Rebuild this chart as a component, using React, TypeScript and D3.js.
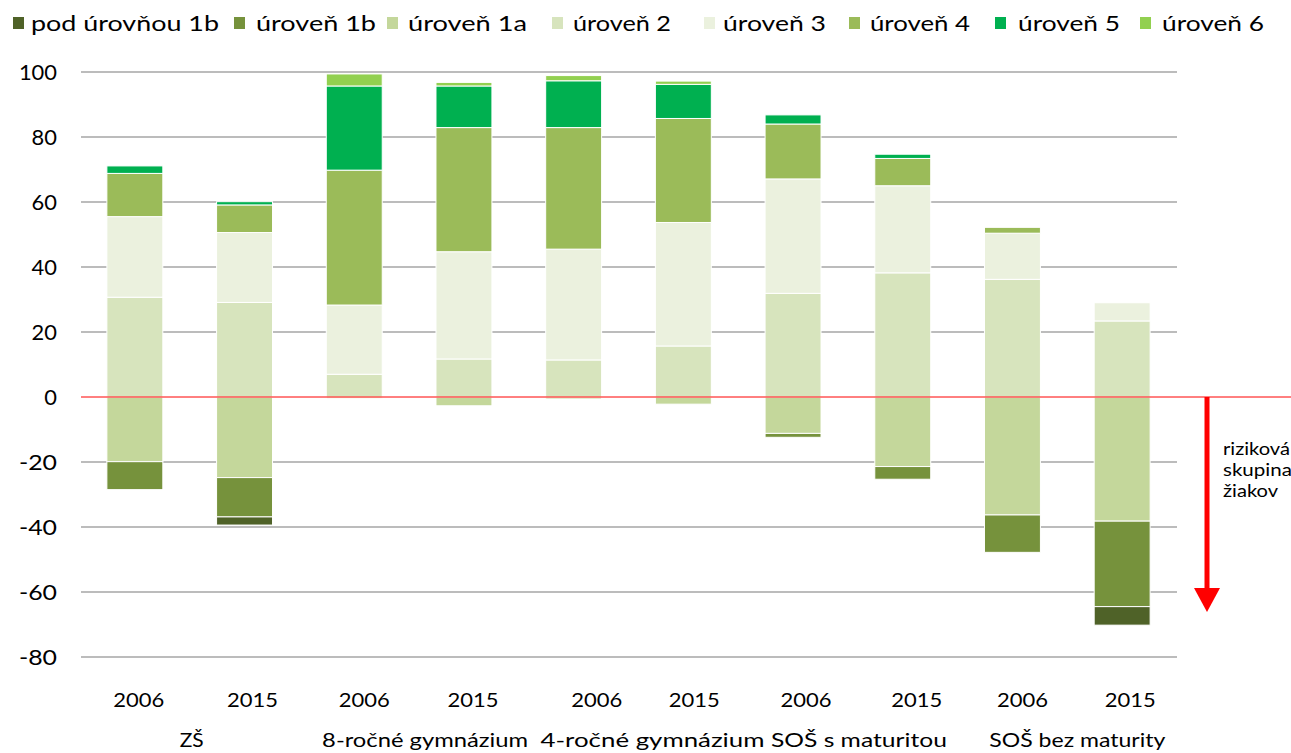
import React from 'react';
import * as d3 from 'd3';

const years = ['2006', '2015', '2006', '2015', '2006', '2015', '2006', '2015', '2006', '2015'];
const groups = ['ZŠ', '8-ročné gymnázium', '4-ročné gymnázium', 'SOŠ s maturitou', 'SOŠ bez maturity'];
const seriesNames = ['pod úrovňou 1b', 'úroveň 1b', 'úroveň 1a', 'úroveň 2', 'úroveň 3', 'úroveň 4', 'úroveň 5', 'úroveň 6'];
const seriesColors = ['#4F6228', '#76923C', '#C4D79B', '#D7E4BD', '#EBF1DE', '#9BBB59', '#00B050', '#92D050'];

// below zero
const podUrovnou1b = [0, 2.5, 0, 0, 0, 0, 0, 0, 0, 5.7];
const uroven1b = [8.6, 12.1, 0, 0, 0, 0, 1.2, 3.9, 11.5, 26.3];
const uroven1a = [19.9, 24.8, 0.5, 2.7, 0.6, 2.2, 11.2, 21.4, 36.3, 38.2];
// above zero
const uroven2 = [30.7, 29.1, 7.0, 11.7, 11.4, 15.7, 31.9, 38.2, 36.2, 23.4];
const uroven3 = [24.8, 21.5, 21.3, 33.0, 34.1, 38.0, 35.2, 26.8, 14.2, 5.6];
const uroven4 = [13.3, 8.5, 41.5, 38.2, 37.4, 32.0, 16.9, 8.4, 1.8, 0];
const uroven5 = [2.3, 1.0, 25.9, 12.8, 14.4, 10.5, 2.8, 1.3, 0, 0];
const uroven6 = [0, 0, 3.7, 1.1, 1.6, 1.0, 0, 0, 0, 0];

const yTicks = [100, 80, 60, 40, 20, 0, -20, -40, -60, -80];
const annotationLines = ['riziková', 'skupina', 'žiakov'];

// layout constants
const legendLayout = [
  { mx: 13, tx: 31, tw: 188 },
  { mx: 234, tx: 256, tw: 120 },
  { mx: 387, tx: 408, tw: 119 },
  { mx: 552, tx: 573, tw: 98 },
  { mx: 704, tx: 723, tw: 103 },
  { mx: 849, tx: 870, tw: 100 },
  { mx: 995, tx: 1018, tw: 102 },
  { mx: 1140, tx: 1162, tw: 102 },
];
const groupLabelWidths = [24, 206, 224, 176, 176];
const yearLabelDx = [4, 8, 10, 9, 23, 11, 13, 14, 10, 8];
const groupLabelDx = [2, 16, 24, 11, 10];
const annotationWidths = [67, 69, 55];

const FONT = "Lato, 'Open Sans', sans-serif";

export default function App() {
  const W = 1291, H = 753;
  const x = d3.scaleBand<number>().domain(d3.range(years.length)).range([80, 1177]).paddingInner(0.49).paddingOuter(0.245);
  const y = d3.scaleLinear().domain([-80, 100]).range([657, 72]);

  const neg = [uroven1a, uroven1b, podUrovnou1b];
  const negIdx = [2, 1, 0];
  const pos = [uroven2, uroven3, uroven4, uroven5, uroven6];
  const posIdx = [3, 4, 5, 6, 7];

  const rects: JSX.Element[] = [];
  years.forEach((_, i) => {
    let acc = 0;
    neg.forEach((s, k) => {
      const v = s[i];
      if (v > 0) {
        const y0 = y(-acc), y1 = y(-(acc + v));
        rects.push(<rect key={`n${i}-${k}`} x={x(i)} y={y0} width={x.bandwidth()} height={y1 - y0}
          fill={seriesColors[negIdx[k]]} stroke="#fff" strokeWidth={1} />);
      }
      acc += v;
    });
    acc = 0;
    pos.forEach((s, k) => {
      const v = s[i];
      if (v > 0) {
        const y0 = y(acc + v), y1 = y(acc);
        rects.push(<rect key={`p${i}-${k}`} x={x(i)} y={y0} width={x.bandwidth()} height={y1 - y0}
          fill={seriesColors[posIdx[k]]} stroke="#fff" strokeWidth={1} />);
      }
      acc += v;
    });
  });

  const cx = (i: number) => (x(i) as number) + x.bandwidth() / 2;
  const arrowX = 1207;

  return (
    <svg width={W} height={H} style={{ position: 'absolute', left: 0, top: 0, background: '#fff' }} fontFamily={FONT}>
      {/* legend */}
      {seriesNames.map((n, i) => (
        <g key={n}>
          <rect x={legendLayout[i].mx} y={17} width={11} height={12} fill={seriesColors[i]} />
          <text x={legendLayout[i].tx} y={31} fontSize={22} fill="#000" textLength={legendLayout[i].tw} lengthAdjust="spacingAndGlyphs">{n}</text>
        </g>
      ))}
      {/* gridlines */}
      {yTicks.filter(t => t !== 0).map(t => (
        <line key={t} x1={81} x2={1177} y1={y(t)} y2={y(t)} stroke="#A6A6A6" strokeWidth={1.5} />
      ))}
      {/* y labels */}
      {yTicks.map(t => (
        <text key={t} x={57} y={y(t) + 8} fontSize={22} textAnchor="end" fill="#000"
          textLength={String(t).length * 12.7} lengthAdjust="spacingAndGlyphs">{t}</text>
      ))}
      {rects}
      <line x1={81} x2={1291} y1={y(0)} y2={y(0)} stroke="#FF0000" strokeWidth={1} />
      {/* year labels */}
      {years.map((yr, i) => (
        <text key={i} x={cx(i) + yearLabelDx[i]} y={707} fontSize={20} textAnchor="middle" fill="#000"
          textLength={51} lengthAdjust="spacingAndGlyphs">{yr}</text>
      ))}
      {groups.map((g, gi) => (
        <text key={g} x={(cx(gi * 2) + cx(gi * 2 + 1)) / 2 + groupLabelDx[gi]} y={747} fontSize={20} textAnchor="middle" fill="#000"
          textLength={groupLabelWidths[gi]} lengthAdjust="spacingAndGlyphs">{g}</text>
      ))}
      {/* arrow */}
      <line x1={arrowX} x2={arrowX} y1={y(0)} y2={592} stroke="#FF0000" strokeWidth={5} />
      <path d={`M${arrowX - 13},588 L${arrowX + 13},588 L${arrowX},612 Z`} fill="#FF0000" />
      {annotationLines.map((t, i) => (
        <text key={t} x={1223} y={455 + i * 21} fontSize={18} fill="#000"
          textLength={annotationWidths[i]} lengthAdjust="spacingAndGlyphs">{t}</text>
      ))}
    </svg>
  );
}
